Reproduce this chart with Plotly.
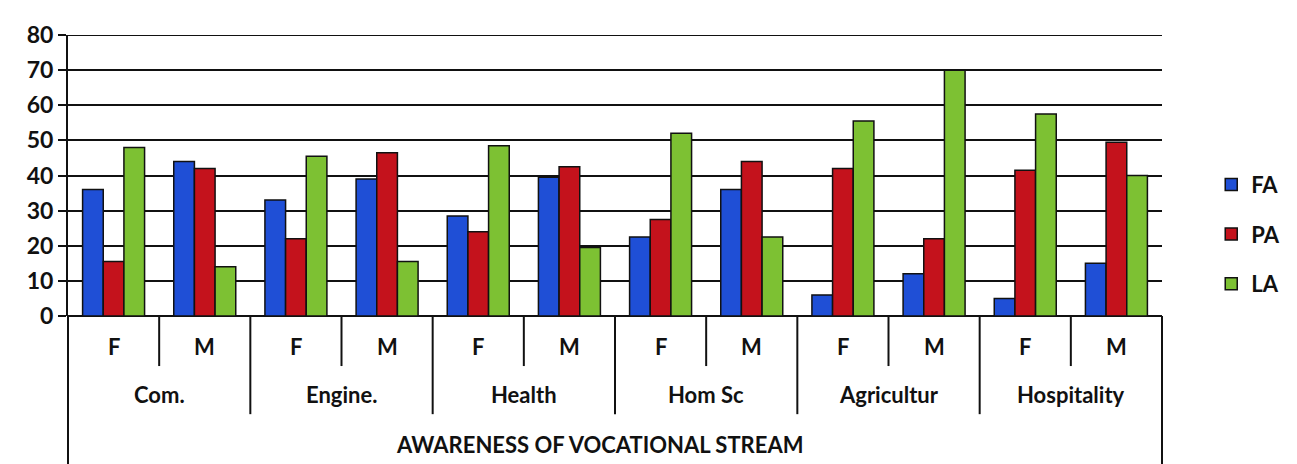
import plotly.graph_objects as go

groups = ["Com.", "Engine.", "Health", "Hom Sc", "Agricultur", "Hospitality"]
sexes = ["F", "M"]
FA = [36, 44, 33, 39, 28.5, 39.5, 22.5, 36, 6, 12, 5, 15]
PA = [15.5, 42, 22, 46.5, 24, 42.5, 27.5, 44, 42, 22, 41.5, 49.5]
LA = [48, 14, 45.5, 15.5, 48.5, 19.5, 52, 22.5, 55.5, 70, 57.5, 40]
y_ticks = [0, 10, 20, 30, 40, 50, 60, 70, 80]
axis_title = "AWARENESS OF VOCATIONAL STREAM"

n = len(groups) * len(sexes)
xs = list(range(n))
FONT = "Lato"

fig = go.Figure()
for name, vals, col in [("FA", FA, "#1f4fd6"), ("PA", PA, "#c4121c"), ("LA", LA, "#7dc133")]:
    fig.add_trace(go.Bar(x=xs, y=vals, name=name, legendgroup=name,
                         marker=dict(color=col, line=dict(color="#111", width=1.5))))

shapes = []
H = 292.0
def py(pix):
    return (316 - pix) / H
# top gridline (plotly omits the one on the plot edge)
shapes.append(dict(type="line", xref="paper", yref="y", x0=-8/1095, x1=1, y0=y_ticks[-1], y1=y_ticks[-1],
                   line=dict(color="#111", width=2)))
for i in range(len(groups)):
    shapes.append(dict(type="line", xref="x", yref="paper", x0=2*i+0.5, x1=2*i+0.5,
                       y0=0, y1=py(368), line=dict(color="#111", width=2)))
for i in range(1, len(groups)):
    shapes.append(dict(type="line", xref="x", yref="paper", x0=2*i-0.5, x1=2*i-0.5,
                       y0=0, y1=py(418), line=dict(color="#111", width=2)))
shapes.append(dict(type="line", xref="paper", yref="paper", x0=0, x1=0, y0=0, y1=py(470),
                   line=dict(color="#111", width=2)))
shapes.append(dict(type="line", xref="paper", yref="paper", x0=1, x1=1, y0=0, y1=py(470),
                   line=dict(color="#111", width=2)))

annotations = []
lab_font = dict(family=FONT, size=22, color="#111", weight="bold")
for gi, g in enumerate(groups):
    for si, s in enumerate(sexes):
        annotations.append(dict(x=2*gi+si, y=py(348), xref="x", yref="paper", text=s,
                                yanchor="middle", xanchor="center", showarrow=False, font=lab_font))
    annotations.append(dict(x=2*gi+0.5, y=py(398), xref="x", yref="paper", text=g,
                            yanchor="middle", xanchor="center", showarrow=False, font=lab_font))
annotations.append(dict(x=(600-68)/1095, y=py(450), xref="paper", yref="paper", text=axis_title,
                        yanchor="middle", xanchor="center", showarrow=False, font=lab_font))

fig.update_layout(
    width=1289, height=456,
    margin=dict(l=60, r=134, t=16, b=148),
    paper_bgcolor="white", plot_bgcolor="white",
    barmode="group", bargap=0.32, bargroupgap=0.0,
    showlegend=True,
    legend=dict(x=1.045, y=py(231), xanchor="left", yanchor="middle",
                font=dict(family=FONT, size=22, color="#111", weight="bold"),
                tracegroupgap=18, itemwidth=30, traceorder="grouped"),
    shapes=shapes, annotations=annotations,
    xaxis=dict(range=[-0.5, n-0.5], showticklabels=False, showgrid=False, zeroline=False,
               showline=False, ticks=""),
    yaxis=dict(range=[0, 80], tickvals=y_ticks, showgrid=True, gridcolor="#111", gridwidth=2,
               zeroline=True, zerolinecolor="#111", zerolinewidth=2,
               showline=True, linecolor="#111", linewidth=2,
               ticks="outside", ticklen=8, tickcolor="#111", tickwidth=2,
               tickfont=dict(family=FONT, size=23, color="#111", weight="bold")),
    font=dict(family=FONT),
)
fig.write_html("out.html")
